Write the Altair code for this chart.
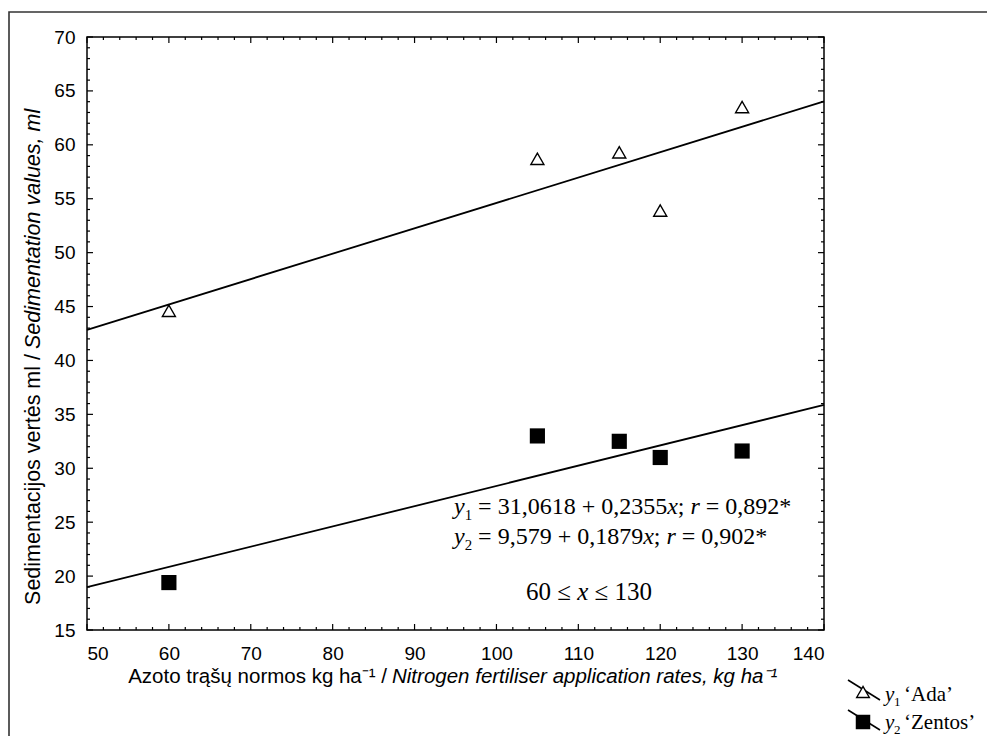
import altair as alt
import pandas as pd

# ---------------- data ----------------
rates = [60, 105, 115, 120, 130]
ada = [44.6, 58.7, 59.3, 53.9, 63.5]
zentos = [19.4, 33.0, 32.5, 31.0, 31.6]

line_x = [50, 140]
ada_fit = [42.84, 64.03]
zentos_fit = [18.97, 35.88]

x_major = [50, 60, 70, 80, 90, 100, 110, 120, 130, 140]
x_minor = [v for v in range(52, 140, 2) if v % 10]
y_major = [15, 20, 25, 30, 35, 40, 45, 50, 55, 60, 65, 70]
y_minor = [v for v in range(16, 70) if v % 5]

x_title_plain = "Azoto trąšų normos kg ha⁻¹ /"
x_title_italic = "Nitrogen fertiliser application rates, kg ha⁻¹"
y_title_plain = "Sedimentacijos vertės ml /"
y_title_italic = "Sedimentation values, ml"

# equation pieces: (text, italic?, subscript?) — edge spaces only set the spacing
eq1 = [("y", True, False), ("1", False, True), (" = 31,0618 + 0,2355", False, False),
       ("x", True, False), ("; ", False, False), ("r", True, False), (" = 0,892*", False, False)]
eq2 = [("y", True, False), ("2", False, True), (" = 9,579 + 0,1879", False, False),
       ("x", True, False), ("; ", False, False), ("r", True, False), (" = 0,902*", False, False)]
eq3 = [("60 ≤ ", False, False), ("x", True, False), (" ≤ 130", False, False)]

# ---------------- layout ----------------
W, H = 737, 593
SANS = "Liberation Sans"
SERIF = "Liberation Serif"
MAJ, MIN = 6, 3
TITLE_SIZE = 20.5
YTITLE_SIZE = 21.5
EQ = 24

# approximate Times-like advance widths (em) for chaining text pieces
EM = {" ": 0.25, "=": 0.564, "+": 0.564, ",": 0.25, ";": 0.278, "*": 0.5,
      "≤": 0.549, "x": 0.444, "y": 0.444, "r": 0.389}


def em_width(s):
    return sum(EM.get(c, 0.5) for c in s)


xs = alt.Scale(domain=[50, 140], nice=False, zero=False)
ys = alt.Scale(domain=[15, 70], nice=False, zero=False)

axis_common = dict(title=None, ticks=False, domain=False, grid=False,
                   labelFont=SANS, labelFontSize=19, labelColor="black")
X_AXIS = alt.Axis(values=x_major, labelPadding=14, **axis_common)
Y_AXIS = alt.Axis(values=y_major, labelPadding=12, **axis_common)

ada_df = pd.DataFrame({"x": rates, "y": ada})
zen_df = pd.DataFrame({"x": rates, "y": zentos})
fit_df = pd.DataFrame({"x": line_x * 2, "y": ada_fit + zentos_fit,
                       "s": ["Ada", "Ada", "Zentos", "Zentos"]})


def X(field):
    return alt.X(field, scale=xs, axis=X_AXIS)


def Y(field):
    return alt.Y(field, scale=ys, axis=Y_AXIS)


ada_pts = alt.Chart(ada_df).mark_point(
    shape="triangle-up", size=170, filled=False, color="black",
    strokeWidth=1.4, opacity=1
).encode(x=X("x:Q"), y=Y("y:Q"))

zen_pts = alt.Chart(zen_df).mark_square(size=230, color="black", opacity=1).encode(
    x=X("x:Q"), y=Y("y:Q"))

fits = alt.Chart(fit_df).mark_line(color="black", strokeWidth=1.8).encode(
    x=X("x:Q"), y=Y("y:Q"), detail="s:N")


def xticks(vals, length):
    df = pd.DataFrame({"v": vals})
    bottom = alt.Chart(df).mark_rule(color="black", strokeWidth=1.2).encode(
        x=X("v:Q"), y=alt.value(H), y2=alt.value(H - length))
    top = alt.Chart(df).mark_rule(color="black", strokeWidth=1.2).encode(
        x=X("v:Q"), y=alt.value(0), y2=alt.value(length))
    return [bottom, top]


def yticks(vals, length):
    df = pd.DataFrame({"v": vals})
    left = alt.Chart(df).mark_rule(color="black", strokeWidth=1.2).encode(
        y=Y("v:Q"), x=alt.value(0), x2=alt.value(length))
    right = alt.Chart(df).mark_rule(color="black", strokeWidth=1.2).encode(
        y=Y("v:Q"), x=alt.value(W), x2=alt.value(W - length))
    return [left, right]


tick_layers = xticks(x_major, MAJ) + xticks(x_minor, MIN) + yticks(y_major, MAJ) + yticks(y_minor, MIN)


def txt(s, x, y, font=SERIF, size=EQ, style="normal", align="left", angle=0, baseline="alphabetic"):
    kw = dict(font=font, fontSize=size, fontStyle=style, align=align,
              baseline=baseline, color="black")
    if angle:
        kw["angle"] = angle
    return alt.Chart(pd.DataFrame({"t": [s]})).mark_text(**kw).encode(
        text="t:N", x=alt.value(x), y=alt.value(y))


def chain(pieces, x0, y0, size):
    out = []
    x = x0
    for s, ital, sub in pieces:
        fs = size * 0.62 if sub else size
        dy = size * 0.25 if sub else 0
        lead = len(s) - len(s.lstrip(" "))
        out.append(txt(s.strip(" "), x + lead * EM[" "] * fs, y0 + dy, size=fs,
                       style="italic" if ital else "normal"))
        x += em_width(s) * fs
    return out


def chain_width(pieces, size):
    return sum(em_width(s) * (size * 0.62 if sub else size) for s, ital, sub in pieces)


texts = [
    # axis titles
    txt(x_title_plain, 300, 646, font=SANS, size=TITLE_SIZE, align="right"),
    txt(x_title_italic, 305, 646, font=SANS, size=TITLE_SIZE, style="italic"),
    txt(y_title_plain, -53, 317, font=SANS, size=YTITLE_SIZE, align="right", angle=270, baseline="middle"),
    txt(y_title_italic, -53, 312, font=SANS, size=YTITLE_SIZE, style="italic", angle=270, baseline="middle"),
]
texts += chain(eq1, 367, 477, EQ)
texts += chain(eq2, 367, 507, EQ)
RANGE = 25
texts += chain(eq3, 502 - chain_width(eq3, RANGE) / 2, 563, RANGE)

texts += [
    # legend
    txt("y", 798, 664, size=21, style="italic"),
    txt("1", 807, 669, size=13),
    txt("‘Ada’", 817, 664, size=21),
    txt("y", 798, 692, size=21, style="italic"),
    txt("2", 807, 697, size=13),
    txt("‘Zentos’", 817, 692, size=21),
]

one = pd.DataFrame({"a": [0]})
legend_marks = [
    alt.Chart(one).mark_rule(color="black", strokeWidth=1.6).encode(
        x=alt.value(761), y=alt.value(643), x2=alt.value(793), y2=alt.value(663)),
    alt.Chart(one).mark_point(shape="triangle-up", size=160, filled=False, color="black",
                              strokeWidth=1.4, opacity=1, fill="white", fillOpacity=1).encode(
        x=alt.value(776), y=alt.value(655)),
    alt.Chart(one).mark_rule(color="black", strokeWidth=1.6).encode(
        x=alt.value(761), y=alt.value(673), x2=alt.value(793), y2=alt.value(693)),
    alt.Chart(one).mark_square(size=210, color="black", opacity=1).encode(
        x=alt.value(776), y=alt.value(685)),
]

frame = alt.Chart(one).mark_rect(filled=False, stroke="#333333", strokeWidth=1.6).encode(
    x=alt.value(-78), x2=alt.value(W + 300), y=alt.value(-25), y2=alt.value(H + 300))

chart = alt.layer(
    frame, fits, *tick_layers, ada_pts, zen_pts, *texts, *legend_marks
).properties(
    width=W, height=H,
    autosize="none",
    padding={"left": 79, "top": 29, "right": 163, "bottom": 106},
    background="white",
).configure_view(stroke="black", strokeWidth=1.5)

chart.save("out.html", embed_options={"renderer": "svg", "actions": False})
